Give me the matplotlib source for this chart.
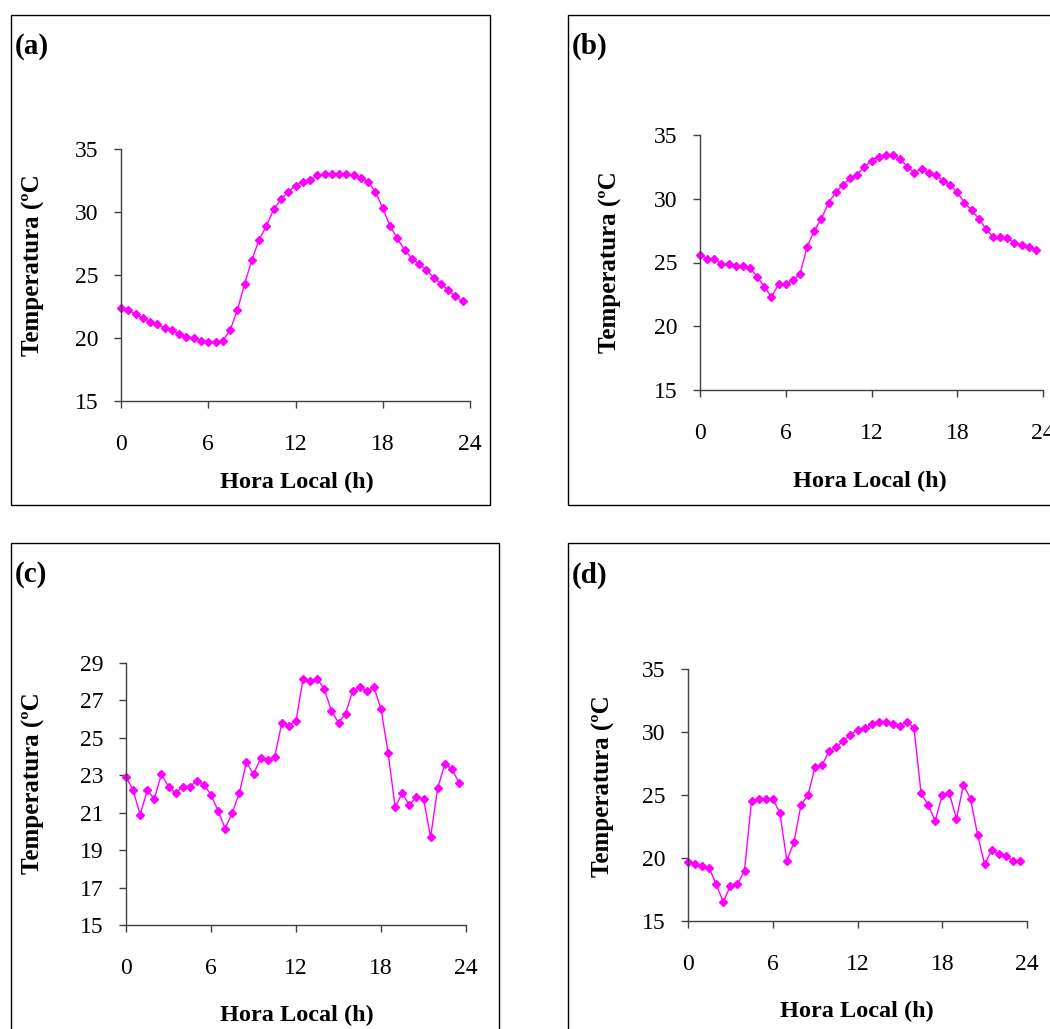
import numpy as np
import matplotlib.pyplot as plt
from matplotlib.patches import Rectangle

plt.rcParams['font.family'] = ['Liberation Serif', 'DejaVu Serif']

# half-hourly local time (h)
hours = np.arange(0, 24, 0.5)

temp_a = [22.4, 22.2, 21.9, 21.6, 21.3, 21.1, 20.8, 20.6, 20.3, 20.1, 20.0, 19.8,
          19.7, 19.7, 19.8, 20.6, 22.2, 24.3, 26.2, 27.8, 28.9, 30.2, 31.0, 31.6,
          32.1, 32.4, 32.5, 32.9, 33.0, 33.0, 33.0, 33.0, 32.9, 32.7, 32.4, 31.6,
          30.3, 28.9, 27.9, 27.0, 26.3, 25.9, 25.4, 24.8, 24.3, 23.8, 23.3, 22.9]
temp_b = [25.6, 25.3, 25.3, 24.85, 24.85, 24.7, 24.7, 24.55, 23.9, 23.1, 22.3, 23.3,
          23.3, 23.6, 24.1, 26.25, 27.5, 28.45, 29.7, 30.5, 31.1, 31.6, 31.9, 32.5,
          33.0, 33.3, 33.45, 33.45, 33.15, 32.5, 32.05, 32.35, 32.05, 31.9, 31.4, 31.1,
          30.5, 29.7, 29.1, 28.45, 27.65, 27.0, 27.0, 26.9, 26.55, 26.4, 26.25, 25.95]
temp_c = [22.93, 22.2, 20.9, 22.2, 21.75, 23.05, 22.4, 22.05, 22.4, 22.4, 22.7, 22.5,
          21.95, 21.1, 20.15, 21.0, 22.05, 23.7, 23.05, 23.9, 23.8, 24.0, 25.8, 25.65,
          25.9, 28.15, 28.05, 28.15, 27.6, 26.45, 25.8, 26.3, 27.5, 27.7, 27.5, 27.7,
          26.55, 24.2, 21.3, 22.05, 21.4, 21.85, 21.75, 19.7, 22.3, 23.6, 23.35, 22.6]
temp_d = [19.65, 19.5, 19.35, 19.2, 17.9, 16.5, 17.8, 17.9, 19.0, 24.55, 24.7, 24.7,
          24.7, 23.6, 19.8, 21.25, 24.2, 25.0, 27.25, 27.4, 28.5, 28.8, 29.3, 29.8,
          30.15, 30.3, 30.6, 30.8, 30.8, 30.6, 30.5, 30.8, 30.3, 25.15, 24.2, 22.95,
          25.0, 25.15, 23.1, 25.8, 24.7, 21.85, 19.5, 20.6, 20.3, 20.15, 19.8, 19.8]

xticks = [0, 6, 12, 18, 24]
yticks_std = [15, 20, 25, 30, 35]
yticks_c = [15, 17, 19, 21, 23, 25, 27, 29]

W, H = 1050, 1029
fig = plt.figure(figsize=(W / 100, H / 100), dpi=100)


def px_axes(left, right, top, bottom):
    return fig.add_axes([left / W, 1 - bottom / H, (right - left) / W, (bottom - top) / H])


def box(x0, y0, x1, y1):
    fig.patches.append(Rectangle((x0 / W, 1 - y1 / H), (x1 - x0) / W, (y1 - y0) / H,
                                 transform=fig.transFigure, fill=False,
                                 edgecolor='black', linewidth=1.0, clip_on=False))


panels = [
    # letter, data, yticks, axes px (l, r, t, b), box px (x0, y0, x1, y1), ylabel, xlabel, letter px
    ('(a)', temp_a, yticks_std, (121, 470, 149, 401), (11, 15, 490, 505), (33, 265), (297, 482), (15, 46)),
    ('(b)', temp_b, yticks_std, (700, 1043, 135, 390), (568, 15, 1055, 505), (610, 262), (870, 481), (572, 46)),
    ('(c)', temp_c, yticks_c, (126, 466, 663, 925), (11, 543, 499, 1040), (33, 783), (297, 1015), (15, 575)),
    ('(d)', temp_d, yticks_std, (688, 1027, 669, 921), (568, 543, 1055, 1040), (603, 786), (857, 1011), (572, 575)),
]

for letter, temps, yt, ax_px, box_px, ylab_px, xlab_px, let_px in panels:
    box(*box_px)
    ax = px_axes(*ax_px)
    ax.plot(hours, temps, color='#FF00FF', linewidth=1.0, marker='D', markersize=4,
            markerfacecolor='#FF00FF', markeredgecolor='#FF00FF', clip_on=False)
    ax.set_xlim(0, 24)
    ax.set_ylim(yt[0], yt[-1])
    ax.set_xticks(xticks)
    ax.set_yticks(yt)
    for s in ['top', 'right']:
        ax.spines[s].set_visible(False)
    for s in ['left', 'bottom']:
        ax.spines[s].set_color('#404040')
        ax.spines[s].set_linewidth(1.0)
    ax.tick_params(axis='both', direction='out', length=5, width=1.0, color='#404040',
                   labelsize=17)
    ax.tick_params(axis='x', pad=19)
    ax.tick_params(axis='y', pad=11)
    ax.patch.set_alpha(0)

    fig.text(ylab_px[0] / W, 1 - ylab_px[1] / H, 'Temperatura (ºC', rotation=90,
             fontsize=18, fontweight='bold', ha='center', va='center')
    fig.text(xlab_px[0] / W, 1 - xlab_px[1] / H, 'Hora Local (h)',
             fontsize=17.5, fontweight='bold', ha='center', va='center')
    fig.text(let_px[0] / W, 1 - let_px[1] / H, letter,
             fontsize=21, fontweight='bold', ha='left', va='center')

fig.savefig('out.png', dpi=100)
